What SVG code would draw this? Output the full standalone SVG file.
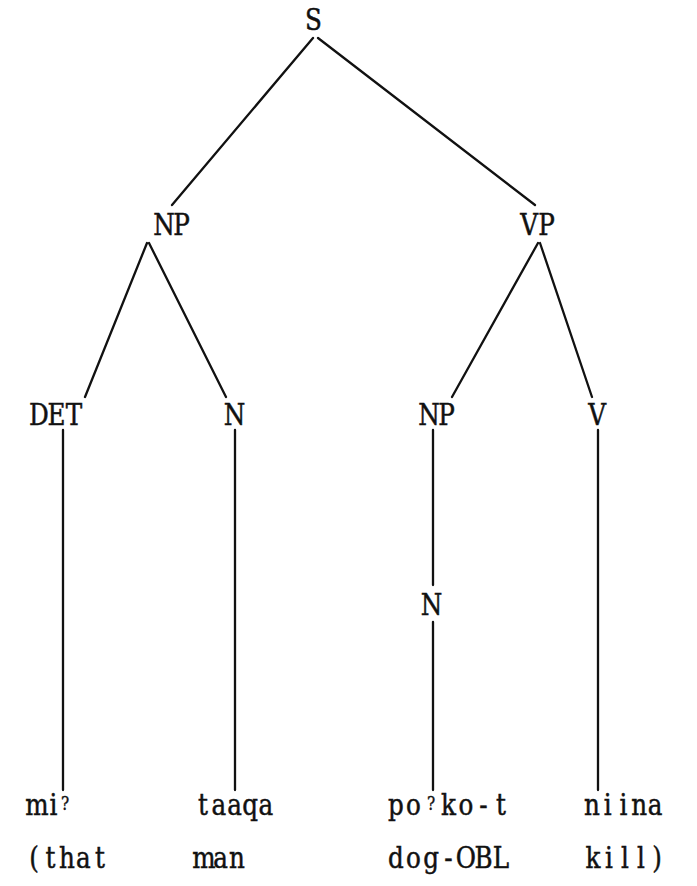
<svg xmlns="http://www.w3.org/2000/svg" width="697" height="886" viewBox="0 0 697 886">
<style>
text{font-family:"DejaVu Serif","Liberation Serif",serif;font-size:29px;fill:#111;stroke:#111;stroke-width:0.5;text-anchor:middle}
.sup{font-size:18px;stroke-width:0.4}
.e line{stroke:#111;stroke-width:2.3;stroke-linecap:round}
</style>
<rect width="697" height="886" fill="#fff"/>
<g class="e" id="connectors">
<line x1="313" y1="38" x2="172" y2="205"/>
<line x1="318" y1="38" x2="535" y2="205"/>
<line x1="147" y1="243" x2="85" y2="397"/>
<line x1="149" y1="243" x2="226" y2="397"/>
<line x1="538" y1="243" x2="452" y2="397"/>
<line x1="540" y1="243" x2="592" y2="397"/>
<line x1="63" y1="430" x2="63" y2="790"/>
<line x1="235" y1="430" x2="235" y2="790"/>
<line x1="433" y1="430" x2="433" y2="585"/>
<line x1="433" y1="622" x2="433" y2="790"/>
<line x1="598" y1="430" x2="598" y2="790"/>
</g>
<g transform="scale(0.85 1)">
<g id="S"><text x="368.8" y="30">S</text></g>
<g id="NP1"><text x="192.9 213.5" y="235">NP</text></g>
<g id="VP"><text x="622.4 642.9" y="235">VP</text></g>
<g id="DET"><text x="45.9 66.5 87.1" y="425">DET</text></g>
<g id="N1"><text x="275.9" y="425">N</text></g>
<g id="NP2"><text x="504.7 525.3" y="425">NP</text></g>
<g id="V"><text x="702.4" y="425">V</text></g>
<g id="N2"><text x="507.6" y="615">N</text></g>
<g id="w1"><text x="43.5 62.9" y="815">mi</text><text class="sup" x="76.5" y="810">?</text></g>
<g id="w2"><text x="238.8 257.4 275.9 294.4 312.9" y="815">taaqa</text></g>
<g id="w3"><text x="465.9 486.5" y="815">po</text><text class="sup" x="507.1" y="810">?</text><text x="527.6 548.2 568.8 589.4" y="815">ko-t</text></g>
<g id="w4"><text x="696.5 715 733.5 752.1 770.6" y="815">niina</text></g>
<g id="g1"><text x="40 59.4 78.8 98.2 117.6" y="868">(that</text></g>
<g id="g2"><text x="240 259.4 278.8" y="868">man</text></g>
<g id="g3"><text x="465.9 486.5 507.1 527.6 548.2 568.8 589.4" y="868">dog-OBL</text></g>
<g id="g4"><text x="697.6 716.5 735.3 754.1 772.9" y="868">kill)</text></g>
</g>
</svg>
